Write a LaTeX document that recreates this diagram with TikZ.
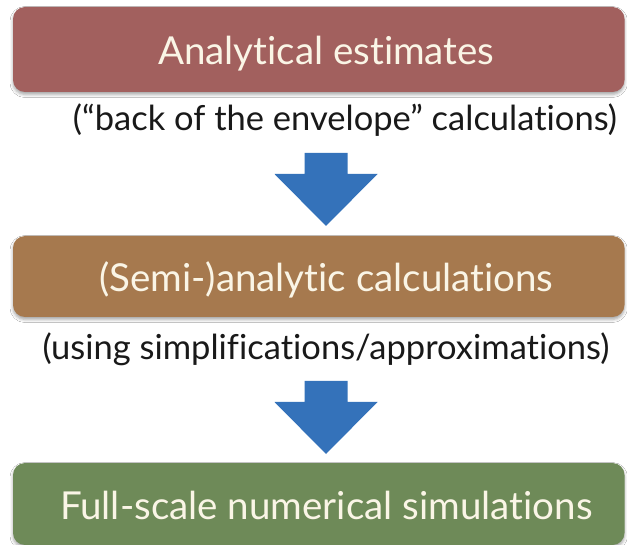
\documentclass[tikz,border=0pt]{standalone}
\usepackage{fontspec}
\setmainfont{Lato}[Ligatures={NoCommon,NoRare}]
\usetikzlibrary{shadows.blur}

\definecolor{stagered}{RGB}{162,96,94}
\definecolor{stagebrown}{RGB}{166,121,78}
\definecolor{stagegreen}{RGB}{110,138,88}
\definecolor{flowblue}{RGB}{52,114,186}
\definecolor{stagetext}{RGB}{250,245,230}
\definecolor{notetext}{RGB}{25,25,25}

\tikzset{
  stagebox/.style={rectangle, rounded corners=12pt, minimum width=611.5pt,
    text=stagetext, font=\fontsize{38.5}{38.5}\selectfont,
    text height=31pt, text depth=0pt, inner sep=0pt,
    % the labels sit a little right of the box centre
    execute at begin node=\hspace*{15pt},
    blur shadow={shadow xshift=0pt, shadow yshift=-2.5pt,
      shadow blur radius=3pt, shadow opacity=35}},
  note/.style={anchor=base, text=notetext, inner sep=0pt,
    font=\fontsize{34.5}{34.5}\selectfont},
  flow/.style={fill=flowblue}
}

% block arrow whose shaft top sits at the given coordinate
\newcommand\flowarrow[1]{%
  \fill[flow, shift={(#1)}] (-21.5,0) -- (21.5,0) -- (21.5,21) -- (51.5,21)
    -- (0,73) -- (-51.5,21) -- (-21.5,21) -- cycle;}

\begin{document}
\begin{tikzpicture}[x=1pt,y=-1pt]
  \useasboundingbox (0,0) rectangle (627,545);
  \fill[white] (0,0) rectangle (627,545);
  \clip (0,0) rectangle (627,545);

  % the three stages
  \node[stagebox, fill=stagered,   minimum height=85pt] (est)  at (318.75,49.5) {Analytical estimates};
  \node[stagebox, fill=stagebrown, minimum height=81pt] (semi) at (318.75,276.5) {(Semi-)analytic calculations};
  \node[stagebox, fill=stagegreen, minimum height=82pt] (full) at (318.75,504) {Full-scale numerical simulations};

  % notes under the first two stages
  \node[note] (estnote)  at (345,131) {(“back of the envelope” calculations)};
  \node[note] (seminote) at (326,360) {(using simplifications/approximations)};

  % arrows between the stages
  \coordinate (flowA) at (326,153);
  \coordinate (flowB) at (326,381);
  \flowarrow{flowA}
  \flowarrow{flowB}
\end{tikzpicture}
\end{document}
